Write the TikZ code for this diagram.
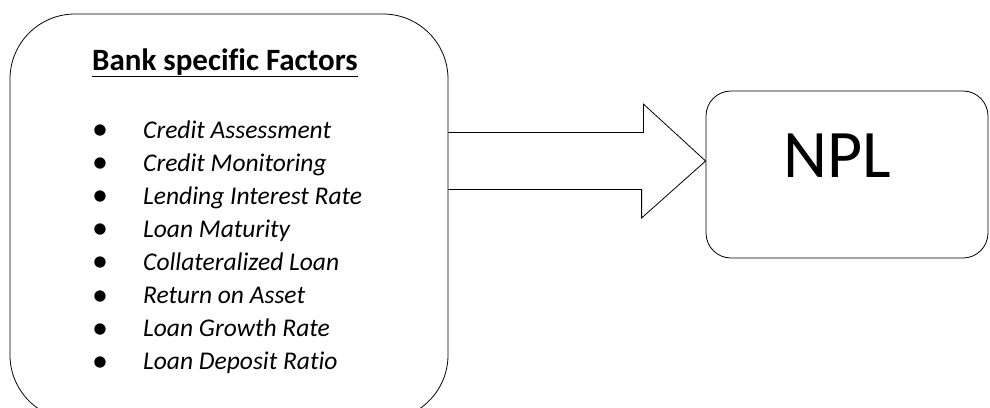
\documentclass[tikz,border=0pt]{standalone}
\usepackage{fontspec}
\setmainfont{Carlito}[Ligatures={NoCommon}]
\usepackage{tikz}
\usetikzlibrary{positioning}

\begin{document}
\begin{tikzpicture}[x=1pt,y=1pt,
	box/.style={draw, thick, rounded corners=#1, inner sep=0pt},
	item/.style={anchor=base west, inner sep=0pt, font=\fontsize{25.5}{30}\selectfont\itshape},
	dot/.style={anchor=base, inner sep=0pt, font=\fontsize{32}{30}\selectfont}]
	\useasboundingbox (0,0) rectangle (990,-407);
	\clip (0,0) rectangle (990,-407);

	% Left box: bank factors
	\node[box=65pt, minimum width=438pt, minimum height=406pt] (bank) at (229,-217) {};
	\node[anchor=base, inner sep=0pt, font=\fontsize{31}{34}\selectfont\bfseries] (title) at (225,-70) {\underline{Bank specific Factors}};

	% List of factors
	\foreach \txt [count=\i] in {Credit Assessment, Credit Monitoring, Lending Interest Rate, Loan Maturity, Collateralized Loan, Return on Asset, Loan Growth Rate, Loan Deposit Ratio}{
		\node[dot] (dot\i) at (100,{-139.5-33.1*(\i-1)}) {\textbullet};
		\node[item] (item\i) at (143,{-138-33.1*(\i-1)}) {\txt};
	}

	% Right box: NPL
	\node[box=25pt, minimum width=282pt, minimum height=167pt] (npl) at (847,-174.5) {};
	\node[anchor=base, inner sep=0pt, font=\fontsize{68}{72}\selectfont] (npltext) at (837,-177) {NPL};

	% Block arrow
	\coordinate (tail) at (bank.east |- 0,-161);
	\coordinate (tip) at (npl.west |- 0,-161);
	\draw[thick, line join=miter] ([yshift=28.5pt]tail) -- ++(195,0) -- ++(0,28.5) -- (tip)
		-- ([xshift=-64pt, yshift=-57pt]tip) -- ++(0,28.5) -- ([yshift=-28.5pt]tail);
\end{tikzpicture}
\end{document}
